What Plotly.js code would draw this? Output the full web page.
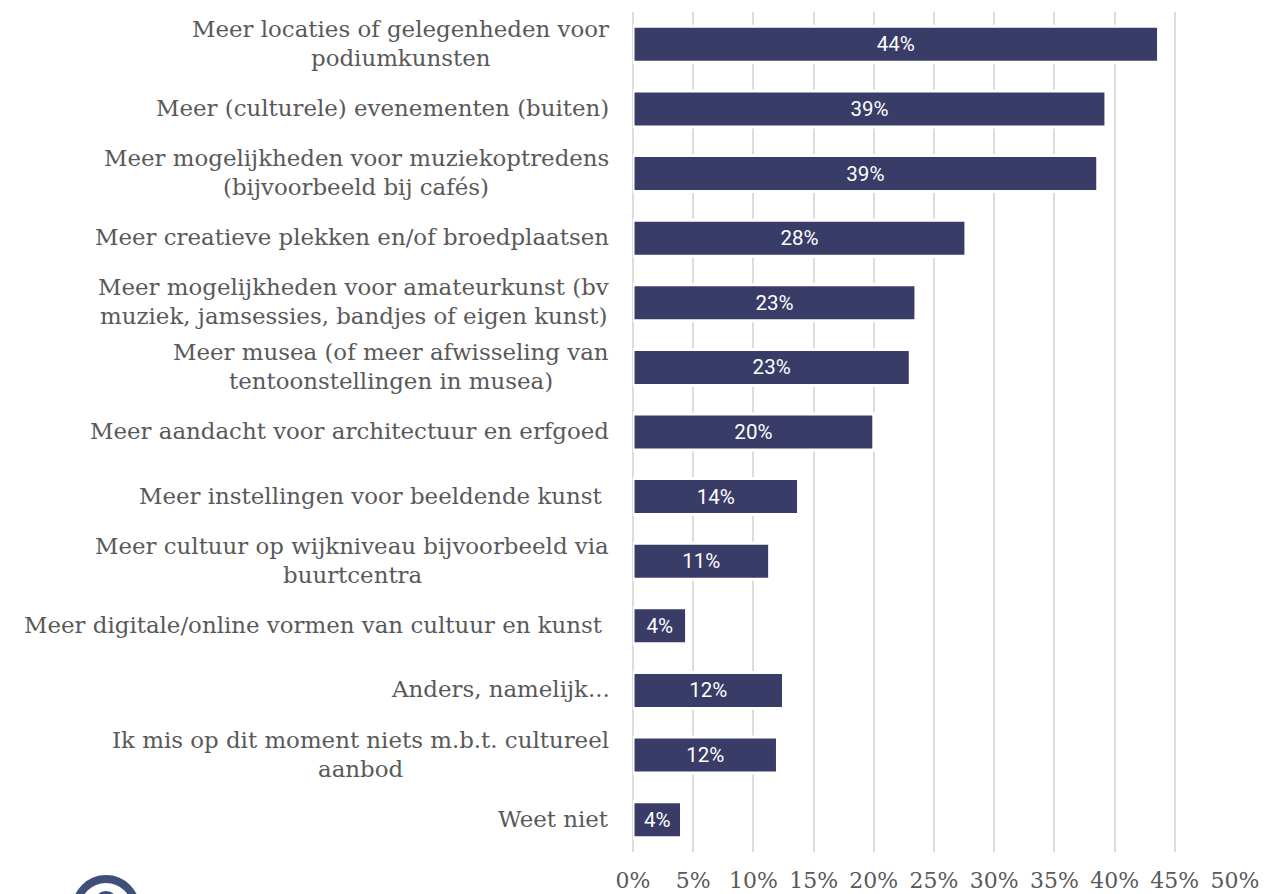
<!DOCTYPE html>
<html><head><meta charset="utf-8">
<script src="https://cdn.plot.ly/plotly-3.0.1.min.js"></script>
<style>html,body{margin:0;padding:0;background:#fff}#c{width:1265px;height:894px}</style>
</head><body><div id="c"></div>
<script>
const categories = [
 "Meer locaties of gelegenheden voor<br>podiumkunsten",
 "Meer (culturele) evenementen (buiten)",
 "Meer mogelijkheden voor muziekoptredens<br>(bijvoorbeeld bij cafés)",
 "Meer creatieve plekken en/of broedplaatsen",
 "Meer mogelijkheden voor amateurkunst (bv<br>muziek, jamsessies, bandjes of eigen kunst)",
 "Meer musea (of meer afwisseling van<br>tentoonstellingen in musea)",
 "Meer aandacht voor architectuur en erfgoed",
 "Meer instellingen voor beeldende kunst\u00a0",
 "Meer cultuur op wijkniveau bijvoorbeeld via<br>buurtcentra",
 "Meer digitale/online vormen van cultuur en kunst\u00a0",
 "Anders, namelijk...",
 "Ik mis op dit moment niets m.b.t. cultureel<br>aanbod",
 "Weet niet"
];
const values = [43.65,39.28,38.6,27.65,23.5,23.03,20,13.75,11.35,4.45,12.5,12,4.03];
const valueLabels = ["44%","39%","39%","28%","23%","23%","20%","14%","11%","4%","12%","12%","4%"];
const tickVals = [0,5,10,15,20,25,30,35,40,45,50];
const tickLabels = ["0%","5%","10%","15%","20%","25%","30%","35%","40%","45%","50%"];

const W=1265,H=894,L=633,R=30,T=12,B=42;
const labelFont="DejaVu Serif", labelSize=22.9, labelColor="#595959", lineGap=29;
const cv=document.createElement('canvas').getContext('2d');
cv.font=labelSize+'px "'+labelFont+'"';
const annotations=[];
categories.forEach(cat=>{
  const lines=cat.split('<br>');
  const w=Math.max(...lines.map(s=>cv.measureText(s).width));
  lines.forEach((s,i)=>{
    annotations.push({text:s,xref:'paper',yref:'y',x:0,y:cat,xanchor:'center',yanchor:'middle',
      xshift:-(24+w/2),yshift:1-(i-(lines.length-1)/2)*lineGap,showarrow:false,borderpad:0,
      font:{family:labelFont,size:labelSize,color:labelColor}});
  });
});
const pw=W-L-R,ph=H-T-B;
const px=v=>(v-L)/pw, py=v=>(H-B-v)/ph;
const logoColor="#404f7a";
const shapes=[
 {type:'circle',xref:'paper',yref:'paper',x0:px(76),x1:px(136),y0:py(939),y1:py(879),line:{color:logoColor,width:8},fillcolor:'rgba(0,0,0,0)'},
 {type:'circle',xref:'paper',yref:'paper',x0:px(94),x1:px(118),y0:py(915),y1:py(891),line:{width:0},fillcolor:logoColor}
];
Plotly.newPlot('c',[{
  type:'bar',orientation:'h',y:categories,x:values,text:valueLabels,width:0.557,
  textposition:'inside',insidetextanchor:'middle',textangle:0,constraintext:'none',
  insidetextfont:{family:'Roboto',size:20.5,weight:400,color:'#ffffff'},
  marker:{color:'#383c67',line:{color:'#ffffff',width:3}},hoverinfo:'skip'
}],{
  width:W,height:H,margin:{l:L,r:R,t:T,b:B,pad:0},paper_bgcolor:'#fff',plot_bgcolor:'#fff',showlegend:false,
  xaxis:{range:[0,50],tickvals:tickVals,ticktext:tickLabels,tickmode:'array',showgrid:true,gridcolor:'#dcdcdc',gridwidth:2,
    zeroline:true,zerolinecolor:'#dcdcdc',zerolinewidth:2,showline:false,ticks:'',ticklabelstandoff:13,
    tickfont:{family:labelFont,size:22,color:labelColor}},
  yaxis:{type:'category',categoryorder:'array',categoryarray:categories,range:[12.5,-0.5],showticklabels:false,ticks:'',showgrid:false,zeroline:false,showline:false},
  annotations,shapes
},{displayModeBar:false,staticPlot:true});
</script></body></html>
